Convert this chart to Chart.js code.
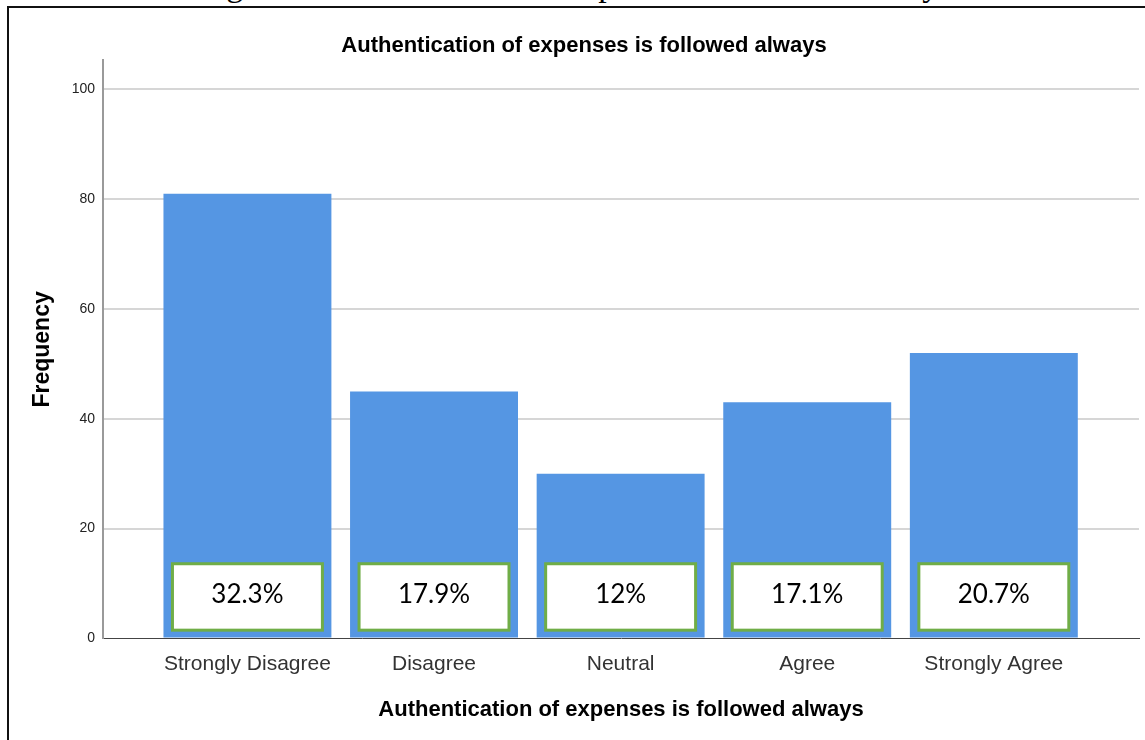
<!DOCTYPE html>
<html>
<head>
<meta charset="utf-8">
<title>Authentication of expenses is followed always</title>
<script src="https://cdn.jsdelivr.net/npm/chart.js@4/dist/chart.umd.min.js"></script>
<style>
  html, body { margin: 0; padding: 0; background: #fff; }
  body { position: relative; width: 1145px; height: 740px; overflow: hidden; }
  #caption {
    position: absolute; left: 198px; top: -32px;
    font: 34px "Liberation Serif", "Times New Roman", serif;
    line-height: 34px; white-space: nowrap; color: #000;
  }
  #frame {
    position: absolute; left: 7px; top: 6px; width: 1160px; height: 800px;
    border-left: 2px solid #111; border-top: 2px solid #111;
    pointer-events: none;
  }
  #chart { position: absolute; left: 0; top: 0; }
</style>
</head>
<body>
<div id="caption">Figure 3 Authentication of expenses is followed always</div>
<canvas id="chart" width="1145" height="740"></canvas>
<div id="frame"></div>
<script>
  'use strict';

  var categories = ['Strongly Disagree', 'Disagree', 'Neutral', 'Agree', 'Strongly Agree'];
  var frequencies = [81, 45, 30, 43, 52];
  var pctLabels = ['32.3%', '17.9%', '12%', '17.1%', '20.7%'];
  var yTicks = [0, 20, 40, 60, 80, 100];

  var chartTitle = 'Authentication of expenses is followed always';

  // white boxes with the share of each answer, sitting at the foot of each bar
  var pctBoxes = {
    id: 'pctBoxes',
    afterDatasetsDraw: function(chart){
      var ctx = chart.ctx;
      var yScale = chart.scales.y;
      var top = yScale.getPixelForValue(13.6);
      var bottom = yScale.getPixelForValue(1.5);
      chart.getDatasetMeta(0).data.forEach(function(bar, i){
        var p = bar.getProps(['x', 'width'], true);
        var left = p.x - p.width / 2 + 9;
        var right = p.x + p.width / 2 - 9;
        ctx.save();
        ctx.fillStyle = '#ffffff';
        ctx.fillRect(left, top, right - left, bottom - top);
        ctx.strokeStyle = '#70ad47';
        ctx.lineWidth = 3;
        ctx.strokeRect(left, top, right - left, bottom - top);
        ctx.fillStyle = '#000000';
        ctx.font = '26px Lato, "Noto Sans", sans-serif';
        ctx.textAlign = 'center';
        ctx.textBaseline = 'middle';
        ctx.fillText(pctLabels[i], p.x, top + 31);
        ctx.restore();
      });
    }
  };

  var points = frequencies.map(function(v, i){
    return {x: i, y: v};
  });

  var ctx = document.getElementById('chart').getContext('2d');
  var myChart = new Chart(ctx, {
    type: 'bar',
    data: {
      datasets: [{
        data: points,
        backgroundColor: '#5596e3',
        borderWidth: 0,
        barPercentage: 0.9,
        categoryPercentage: 1.0
      }]
    },
    options: {
      responsive: false,
      animation: false,
      layout: {
        padding: {top: 10, left: 29, right: 6, bottom: 17}
      },
      plugins: {
        legend: {display: false},
        tooltip: {enabled: false},
        title: {
          display: true,
          text: chartTitle,
          color: '#000',
          font: {family: '"Liberation Sans", Arial, sans-serif', size: 22, weight: 'bold', lineHeight: 1.2},
          padding: {top: 23, bottom: 1}
        }
      },
      scales: {
        x: {
          type: 'linear',
          offset: false,
          min: -0.774,
          max: 4.778,
          grid: {display: false, drawTicks: false},
          border: {display: true, color: '#444', width: 1},
          ticks: {
            stepSize: 1,
            includeBounds: false,
            autoSkip: false,
            maxRotation: 0,
            padding: 13,
            color: '#333',
            font: {family: '"Liberation Sans", Arial, sans-serif', size: 21},
            callback: function(value){
              return Number.isInteger(value) && categories[value] ? categories[value] : '';
            }
          },
          title: {
            display: true,
            text: chartTitle,
            color: '#000',
            font: {family: '"Liberation Sans", Arial, sans-serif', size: 22, weight: 'bold', lineHeight: 1.2},
            padding: {top: 7, bottom: 0}
          }
        },
        y: {
          min: 0,
          max: 105.3,
          afterFit: function(scale){
            scale.width = 74;
          },
          grid: {
            drawTicks: false,
            lineWidth: 2,
            color: function(c){
              return c.tick && c.tick.value === 0 ? 'rgba(0,0,0,0)' : '#d6d6d6';
            }
          },
          border: {display: true, color: '#9a9a9a', width: 2},
          ticks: {
            stepSize: 20,
            padding: 8,
            color: '#222',
            font: {family: '"Liberation Sans", Arial, sans-serif', size: 14},
            callback: function(value){
              return yTicks.indexOf(value) >= 0 ? String(value) : null;
            }
          },
          title: {
            display: true,
            text: 'Frequency',
            color: '#000',
            font: {family: '"Liberation Sans", Arial, sans-serif', size: 23, weight: 'bold', lineHeight: 1.2},
            padding: {top: 0, bottom: 0}
          }
        }
      }
    },
    plugins: [pctBoxes]
  });
</script>
</body>
</html>
